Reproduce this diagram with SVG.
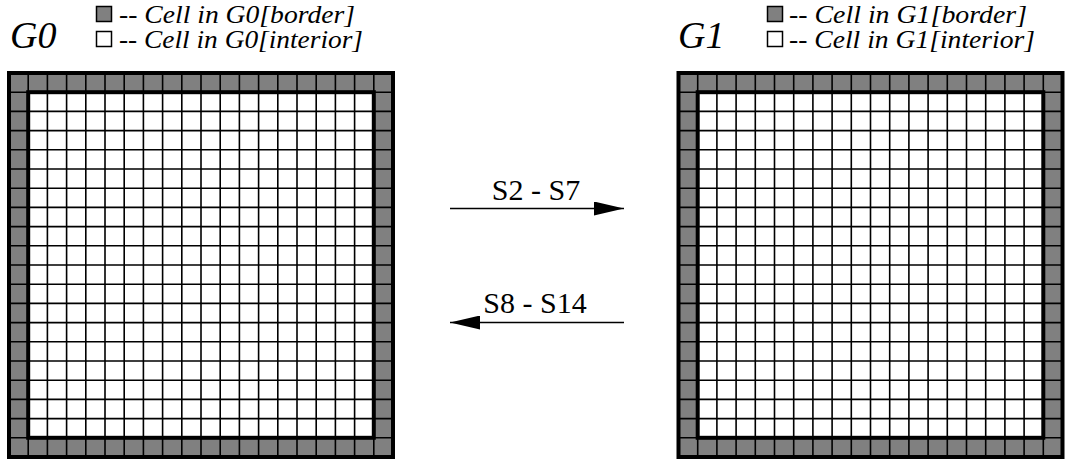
<svg xmlns="http://www.w3.org/2000/svg" width="1065" height="459" viewBox="0 0 1065 459">
  <style>
    text { font-family: 'Liberation Serif', serif; fill: #000; }
    .title { font-style: italic; font-size: 38px; }
    .legend { font-style: italic; font-size: 25px; }
    .label { font-size: 30px; }
    .key-border { fill: #808080; stroke: #000; stroke-width: 1.5; }
    .key-interior { fill: #fff; stroke: #000; stroke-width: 1.5; }
    .cells { fill: none; stroke: #000; stroke-width: 1.6; }
    .frame { fill: none; stroke: #000; stroke-width: 4; }
    .edge { stroke: #000; stroke-width: 1.5; fill: none; }
  </style>
  <defs>
    <!-- 20x20 cell grid: one ring of border cells around the interior -->
    <g id="grid">
      <rect x="0" y="0" width="384" height="384" fill="#808080"/>
      <rect x="19.2" y="19.2" width="345.6" height="345.6" fill="#fff"/>
      <path class="cells" d="M19.2 0v384m19.2-384v384m19.2-384v384m19.2-384v384m19.2-384v384m19.2-384v384m19.2-384v384m19.2-384v384m19.2-384v384m19.2-384v384m19.2-384v384m19.2-384v384m19.2-384v384m19.2-384v384m19.2-384v384m19.2-384v384m19.2-384v384m19.2-384v384m19.2-384v384"/>
      <path class="cells" d="M0 19.2h384m-384 19.2h384m-384 19.2h384m-384 19.2h384m-384 19.2h384m-384 19.2h384m-384 19.2h384m-384 19.2h384m-384 19.2h384m-384 19.2h384m-384 19.2h384m-384 19.2h384m-384 19.2h384m-384 19.2h384m-384 19.2h384m-384 19.2h384m-384 19.2h384m-384 19.2h384m-384 19.2h384"/>
      <rect class="frame" x="19.2" y="19.2" width="345.6" height="345.6"/>
      <rect class="frame" x="0" y="0" width="384" height="384"/>
    </g>
    <marker id="head" markerUnits="userSpaceOnUse" markerWidth="30" markerHeight="14" refX="30" refY="7" orient="auto">
      <path d="M0 0L30 7L0 14z" fill="#000"/>
    </marker>
  </defs>

  <g id="G0">
    <text class="title" x="10" y="48">G0</text>
    <rect class="key-border" x="96.5" y="6.5" width="15" height="15"/>
    <text class="legend" x="119" y="22.5" textLength="236" lengthAdjust="spacingAndGlyphs">-- Cell in G0[border]</text>
    <rect class="key-interior" x="96.5" y="31.5" width="15" height="15"/>
    <text class="legend" x="119" y="47.5" textLength="244" lengthAdjust="spacingAndGlyphs">-- Cell in G0[interior]</text>
    <use href="#grid" transform="translate(9,73)"/>
  </g>

  <g id="G1">
    <text class="title" x="678" y="48">G1</text>
    <rect class="key-border" x="767.5" y="6.5" width="15" height="15"/>
    <text class="legend" x="789" y="22.5" textLength="238" lengthAdjust="spacingAndGlyphs">-- Cell in G1[border]</text>
    <rect class="key-interior" x="767.5" y="31.5" width="15" height="15"/>
    <text class="legend" x="789" y="47.5" textLength="246" lengthAdjust="spacingAndGlyphs">-- Cell in G1[interior]</text>
    <use href="#grid" transform="translate(678.5,73)"/>
  </g>

  <g id="connectors">
    <line class="edge" x1="450" y1="208.5" x2="624" y2="208.5" marker-end="url(#head)"/>
    <text class="label" x="536" y="200" text-anchor="middle">S2 - S7</text>
    <line class="edge" x1="624" y1="322.5" x2="450" y2="322.5" marker-end="url(#head)"/>
    <text class="label" x="535" y="313" text-anchor="middle">S8 - S14</text>
  </g>
</svg>
